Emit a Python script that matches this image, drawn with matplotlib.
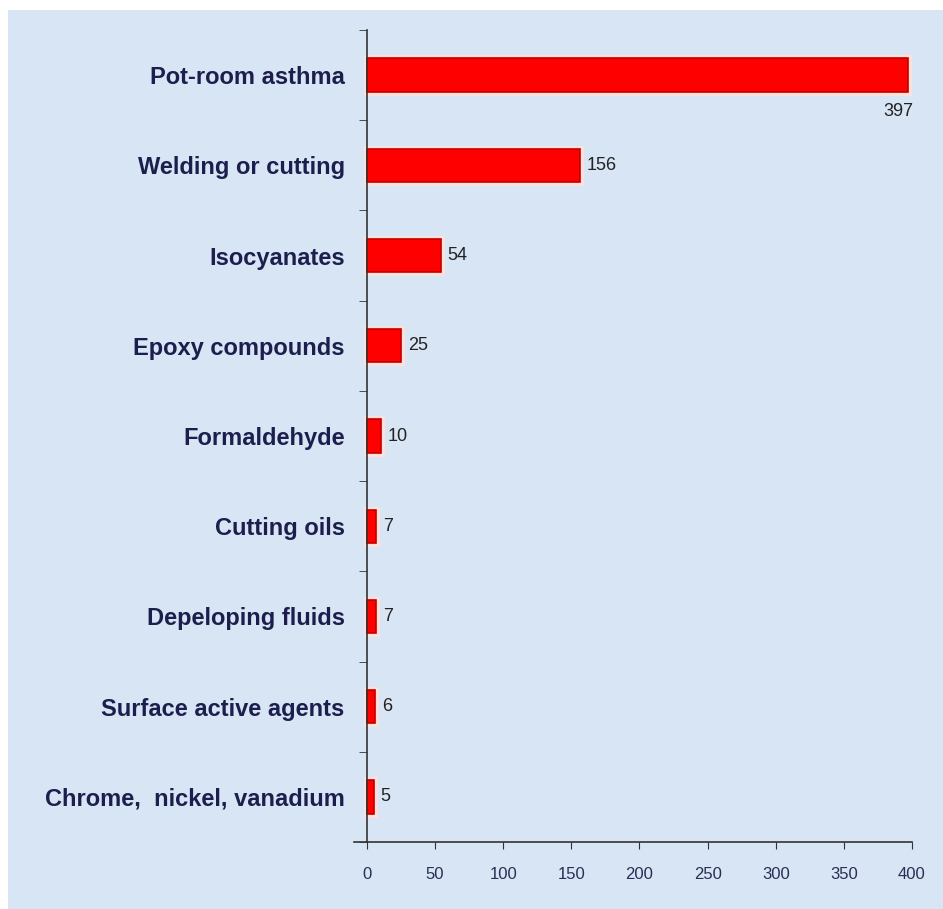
import matplotlib
matplotlib.use("Agg")
import matplotlib.pyplot as plt
from matplotlib import font_manager as fm
from matplotlib.patches import Rectangle

categories = ["Pot-room asthma", "Welding or cutting", "Isocyanates", "Epoxy compounds",
              "Formaldehyde", "Cutting oils", "Depeloping fluids", "Surface active agents",
              "Chrome,  nickel, vanadium"]
values = [397, 156, 54, 25, 10, 7, 7, 6, 5]
xticks = [0, 50, 100, 150, 200, 250, 300, 350, 400]


def has_font(name):
    try:
        fm.findfont(fm.FontProperties(family=name), fallback_to_default=False)
        return True
    except Exception:
        return False


NARROW = has_font("Liberation Sans Narrow")
FAM = "Liberation Sans Narrow" if NARROW else "Liberation Sans"
cat_size = 21 if NARROW else 17
num_size = 16 if NARROW else 13

W, H = 943, 909
fig = plt.figure(figsize=(W/100, H/100), dpi=100)
fig.patch.set_facecolor("white")
bgax = fig.add_axes([8/W, 0, 1 - 8/W, 1 - 10/H], zorder=-5)
bgax.set_axis_off()
bgax.add_patch(Rectangle((0, 0), 1, 1, transform=bgax.transAxes,
                         facecolor="#d8e5f4", edgecolor="none"))

ax = fig.add_axes([354/W, 1 - 842/H, (912 - 354)/W, (842 - 30)/H], zorder=1)
ax.set_facecolor("none")
n = len(categories)
ypos = list(range(n))[::-1]
# pale halo behind the bars, then the bars themselves
ax.barh(ypos, values, height=0.37, color="#ffd6d0", edgecolor="#ffe0dc", linewidth=5, zorder=2)
ax.barh(ypos, values, height=0.37, color="#ff0000", edgecolor="#c00000", linewidth=1.2, zorder=3)
ax.set_xlim(-9.5, 400)
ax.set_ylim(-0.5, n - 0.5)

ax.spines["left"].set_position(("data", 0))
ax.set_yticks(ypos)
ax.set_yticklabels(categories, fontsize=cat_size, fontweight="bold", color="#1c1f4e",
                   family=FAM)
ax.tick_params(axis="y", length=0, pad=16)
ax.set_yticks([i - 0.5 for i in range(n + 1)], minor=True)
ax.tick_params(axis="y", which="minor", length=6, direction="out", color="#333333")

ax.set_xticks(xticks)
ax.set_xticklabels([str(t) for t in xticks], fontsize=num_size - 1, color="#2a2d55",
                   family=FAM)
ax.tick_params(axis="x", length=5, direction="out", color="#333333", pad=13)

for s in ["top", "right"]:
    ax.spines[s].set_visible(False)
for s in ["left", "bottom"]:
    ax.spines[s].set_color("#333333")
    ax.spines[s].set_linewidth(1.2)
ax.spines["left"].set_zorder(4)

for y, v in zip(ypos, values):
    if v == max(values):
        ax.annotate(str(v), (v, y), xytext=(4, -26), textcoords="offset points",
                    ha="right", va="center", fontsize=num_size, color="#222222", family=FAM)
    else:
        ax.annotate(str(v), (v, y), xytext=(5, 0), textcoords="offset points",
                    ha="left", va="center", fontsize=num_size, color="#222222", family=FAM)

fig.savefig("out.png", dpi=100)
